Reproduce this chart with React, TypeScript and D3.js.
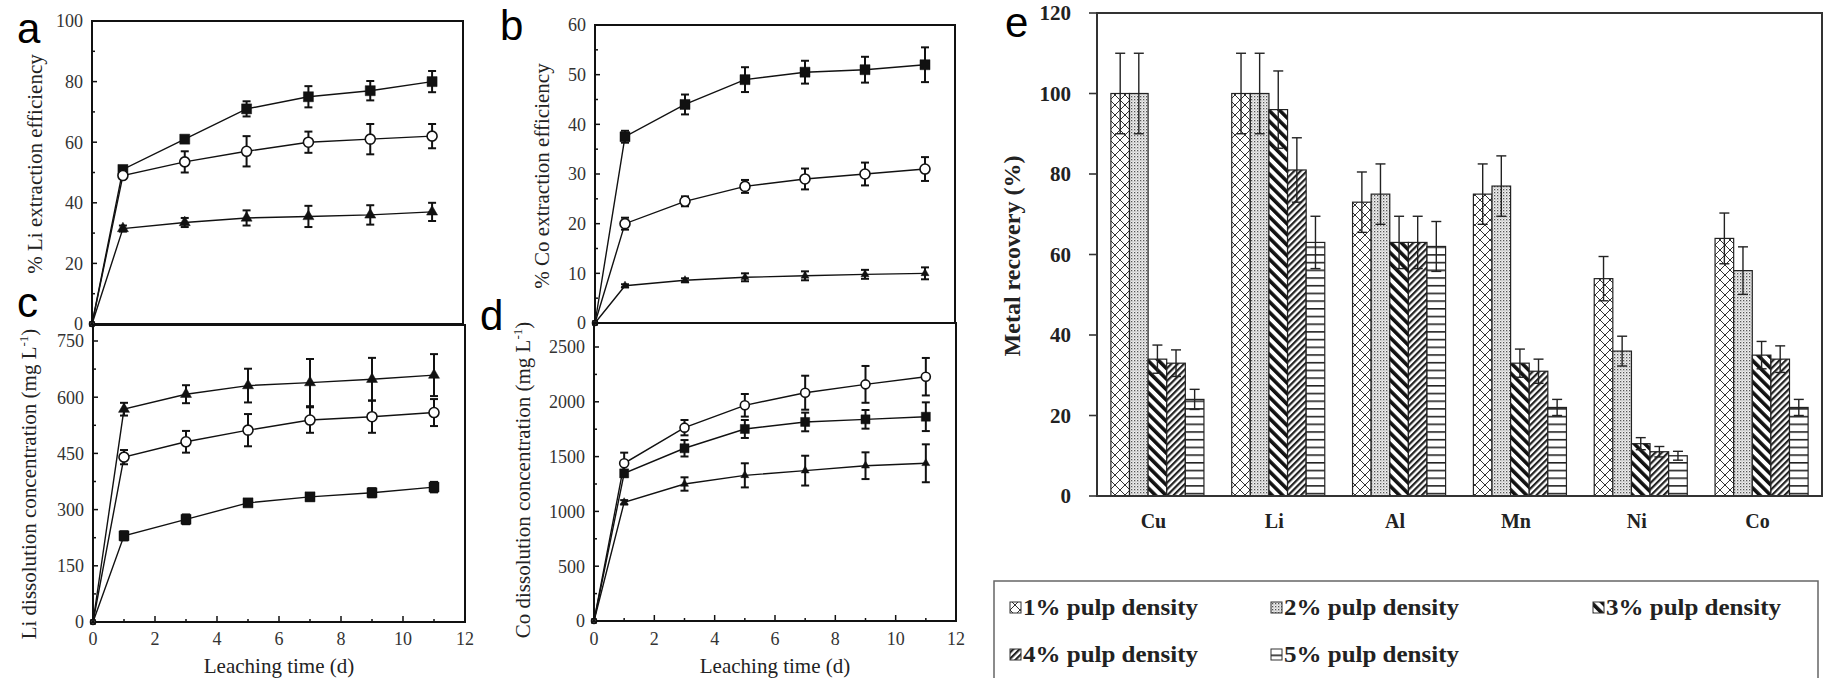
import * as d3 from 'd3';
import React from 'react';

// leaching time (d)
const days = [0, 1, 3, 5, 7, 9, 11];

// a: % Li extraction efficiency
const liEffSquare = [0, 51, 61, 71, 75, 77, 80];
const liEffSquareErr = [0, 1, 1, 2.5, 3.5, 3.2, 3.5];
const liEffCircle = [0, 49, 53.5, 57, 60, 61, 62];
const liEffCircleErr = [0, 1, 3.5, 5, 3.5, 5, 4];
const liEffTriangle = [0, 31.5, 33.5, 35, 35.5, 36, 37];
const liEffTriangleErr = [0, 1, 1.5, 2.5, 3.5, 3.2, 3];

// b: % Co extraction efficiency
const coEffSquare = [0, 37.5, 44, 49, 50.5, 51, 52];
const coEffSquareErr = [0, 1.2, 2, 2.5, 2.3, 2.6, 3.5];
const coEffCircle = [0, 20, 24.5, 27.5, 29, 30, 31];
const coEffCircleErr = [0, 1.2, 1, 1.3, 2.1, 2.3, 2.4];
const coEffTriangle = [0, 7.5, 8.6, 9.2, 9.5, 9.8, 10];
const coEffTriangleErr = [0, 0.3, 0.4, 0.8, 0.9, 0.9, 1.2];

// c: Li dissolution concentration (mg/L)
const liConcSquare = [0, 230, 274, 318, 334, 345, 360];
const liConcSquareErr = [0, 12, 13, 8, 10, 12, 14];
const liConcCircle = [0, 440, 481, 512, 539, 548, 559];
const liConcCircleErr = [0, 19, 29, 43, 34, 43, 36];
const liConcTriangle = [0, 568, 608, 631, 639, 648, 659];
const liConcTriangleErr = [0, 17, 24, 45, 63, 57, 56];

// d: Co dissolution concentration (mg/L)
const coConcSquare = [0, 1347, 1576, 1752, 1816, 1840, 1864];
const coConcSquareErr = [0, 30, 75, 82, 85, 85, 131];
const coConcCircle = [0, 1439, 1764, 1968, 2083, 2159, 2229];
const coConcCircleErr = [0, 97, 70, 103, 155, 168, 171];
const coConcTriangle = [0, 1083, 1250, 1329, 1372, 1417, 1439];
const coConcTriangleErr = [0, 20, 61, 110, 136, 122, 173];

// e: metal recovery (%)
const metals = ['Cu', 'Li', 'Al', 'Mn', 'Ni', 'Co'];
const densities = ['1% pulp density', '2% pulp density', '3% pulp density', '4% pulp density', '5% pulp density'];
const recovery1 = [100, 100, 73, 75, 54, 64];
const recovery2 = [100, 100, 75, 77, 36, 56];
const recovery3 = [34, 96, 63, 33, 13, 35];
const recovery4 = [33, 81, 63, 31, 11, 34];
const recovery5 = [24, 63, 62, 22, 10, 22];
const recoveryErr1 = [10, 10, 7.5, 7.5, 5.5, 6.3];
const recoveryErr2 = [10, 10, 7.5, 7.5, 3.7, 5.9];
const recoveryErr3 = [3.5, 9.6, 6.5, 3.5, 1.5, 3.4];
const recoveryErr4 = [3.3, 8, 6.5, 3, 1.3, 3.3];
const recoveryErr5 = [2.5, 6.5, 6.2, 2, 1.1, 2];

const serif = "'Liberation Serif', 'Times New Roman', serif";
const sans = "'Liberation Sans', Arial, sans-serif";

const Marker = ({ shape, x, y, size }) => {
    let type = d3.symbolSquare, area = size * size, fill = '#111';
    if (shape === 'circle') { type = d3.symbolCircle; area = Math.PI * size * size / 4; fill = '#fff'; }
    if (shape === 'triangle') { type = d3.symbolTriangle; area = Math.sqrt(3) / 4 * size * size; }
    const d = d3.symbol(type, area)();
    return <path d={d} transform={`translate(${x},${y})`} fill={fill} stroke="#111" strokeWidth={shape === 'circle' ? 1.6 : 0.5} />;
};

const LinePanel = ({ p }) => {
    const x = d3.scaleLinear().domain([0, 12]).range([p.left, p.right]);
    const y = d3.scaleLinear().domain([0, p.ticks[p.ticks.length - 1]]).range([p.bottom, p.maxY]);
    const line = d3.line().x((d) => x(d[0])).y((d) => y(d[1]));
    const minors = d3.range(p.minor, y.invert(p.top), p.minor * 2);
    return (
        <g>
            <rect x={p.left} y={p.top} width={p.right - p.left} height={p.bottom - p.top} fill="none" stroke="#111" strokeWidth={2} />
            {p.ticks.map((t) => (
                <g key={t}>
                    <line x1={p.left} x2={p.left + 5} y1={y(t)} y2={y(t)} stroke="#111" strokeWidth={1.5} />
                    <text x={p.left - 9} y={y(t)} dy="0.35em" textAnchor="end" fontFamily={serif} fontSize={18} fill="#333">{t}</text>
                </g>
            ))}
            {minors.map((t) => (
                <line key={'m' + t} x1={p.left} x2={p.left + 3} y1={y(t)} y2={y(t)} stroke="#111" strokeWidth={1.5} />
            ))}
            {p.showX && d3.range(0, 13, 1).map((t) => (
                <g key={'x' + t}>
                    <line x1={x(t)} x2={x(t)} y1={p.bottom} y2={p.bottom - (t % 2 ? 3 : 6)} stroke="#111" strokeWidth={1.5} />
                    {t % 2 === 0 && <text x={x(t)} y={645} textAnchor="middle" fontFamily={serif} fontSize={18} fill="#333">{t}</text>}
                </g>
            ))}
            {p.showX && <text x={(p.left + p.right) / 2} y={673} textAnchor="middle" fontFamily={serif} fontSize={21} fill="#222">Leaching time (d)</text>}
            <text transform={`translate(${p.titleX},${p.titleY}) rotate(-90)`} textAnchor="middle" dy="0.35em" fontFamily={serif} fontSize={21} fill="#222">
                {p.title}
                {p.sup && <tspan dy={-8} fontSize={13}>-1</tspan>}
                {p.sup && <tspan dy={8}>)</tspan>}
            </text>
            {p.series.map((s, si) => (
                <g key={si}>
                    {s.values.map((v, i) => s.errors[i] > 0 && (
                        <g key={i} stroke="#111" strokeWidth={2}>
                            <line x1={x(days[i])} x2={x(days[i])} y1={y(v - s.errors[i])} y2={y(v + s.errors[i])} />
                            <line x1={x(days[i]) - 4} x2={x(days[i]) + 4} y1={y(v - s.errors[i])} y2={y(v - s.errors[i])} />
                            <line x1={x(days[i]) - 4} x2={x(days[i]) + 4} y1={y(v + s.errors[i])} y2={y(v + s.errors[i])} />
                        </g>
                    ))}
                    <path d={line(days.map((d, i) => [d, s.values[i]]))} fill="none" stroke="#111" strokeWidth={1.4} />
                </g>
            ))}
            {p.series.map((s, si) => (
                <g key={'mk' + si}>
                    {s.values.map((v, i) => (
                        <Marker key={i} shape={s.shape} x={x(days[i])} y={y(v)} size={i === 0 ? 5 : (s.shape === 'triangle' ? p.tri : p.mark)} />
                    ))}
                </g>
            ))}
        </g>
    );
};

const panels = [
    {
        left: 92, right: 463, top: 21, bottom: 324, maxY: 21, ticks: [0, 20, 40, 60, 80, 100], minor: 10, showX: false,
        title: '% Li extraction efficiency', titleX: 35, titleY: 164, mark: 10, tri: 11,
        series: [
            { shape: 'square', values: liEffSquare, errors: liEffSquareErr },
            { shape: 'circle', values: liEffCircle, errors: liEffCircleErr },
            { shape: 'triangle', values: liEffTriangle, errors: liEffTriangleErr },
        ],
    },
    {
        left: 595, right: 955, top: 25, bottom: 323, maxY: 25, ticks: [0, 10, 20, 30, 40, 50, 60], minor: 5, showX: false,
        title: '% Co extraction efficiency', titleX: 542, titleY: 176, mark: 10, tri: 8,
        series: [
            { shape: 'square', values: coEffSquare, errors: coEffSquareErr },
            { shape: 'circle', values: coEffCircle, errors: coEffCircleErr },
            { shape: 'triangle', values: coEffTriangle, errors: coEffTriangleErr },
        ],
    },
    {
        left: 93, right: 465, top: 325, bottom: 622, maxY: 341, ticks: [0, 150, 300, 450, 600, 750], minor: 75, showX: true,
        title: 'Li dissolution concentration (mg L', sup: true, titleX: 29, titleY: 484, mark: 10, tri: 11,
        series: [
            { shape: 'square', values: liConcSquare, errors: liConcSquareErr },
            { shape: 'circle', values: liConcCircle, errors: liConcCircleErr },
            { shape: 'triangle', values: liConcTriangle, errors: liConcTriangleErr },
        ],
    },
    {
        left: 594, right: 956, top: 323, bottom: 621, maxY: 347, ticks: [0, 500, 1000, 1500, 2000, 2500], minor: 250, showX: true,
        title: 'Co dissolution concentration (mg L', sup: true, titleX: 523, titleY: 480, mark: 9, tri: 8,
        series: [
            { shape: 'square', values: coConcSquare, errors: coConcSquareErr },
            { shape: 'circle', values: coConcCircle, errors: coConcCircleErr },
            { shape: 'triangle', values: coConcTriangle, errors: coConcTriangleErr },
        ],
    },
];

const recoveries = [recovery1, recovery2, recovery3, recovery4, recovery5];
const recoveryErrs = [recoveryErr1, recoveryErr2, recoveryErr3, recoveryErr4, recoveryErr5];
const fills = ['url(#p1)', 'url(#p2)', 'url(#p3)', 'url(#p4)', 'url(#p5)'];

const Patterns = () => (
    <defs>
        <pattern id="p1" patternUnits="userSpaceOnUse" width={10} height={10}>
            <rect width={10} height={10} fill="#fff" />
            <path d="M0,0L10,10M10,0L0,10" stroke="#333" strokeWidth={1} />
        </pattern>
        <pattern id="p2" patternUnits="userSpaceOnUse" width={3} height={3}>
            <rect width={3} height={3} fill="#eee" />
            <rect width={1.3} height={1.3} fill="#555" />
            <rect x={1.5} y={1.5} width={1} height={1} fill="#999" />
        </pattern>
        <pattern id="p3" patternUnits="userSpaceOnUse" width={7.5} height={7.5} patternTransform="rotate(-45)">
            <rect width={7.5} height={7.5} fill="#fff" />
            <rect width={3.6} height={7.5} fill="#111" />
        </pattern>
        <pattern id="p4" patternUnits="userSpaceOnUse" width={4.5} height={4.5} patternTransform="rotate(45)">
            <rect width={4.5} height={4.5} fill="#fff" />
            <rect width={2.2} height={4.5} fill="#222" />
        </pattern>
        <pattern id="p5" patternUnits="userSpaceOnUse" width={8} height={7.7}>
            <rect width={8} height={7.7} fill="#fff" />
            <rect y={0} width={8} height={1.6} fill="#222" />
        </pattern>
    </defs>
);

const BarPanel = () => {
    const left = 1097, right = 1822, top = 13, bottom = 496;
    const x0 = d3.scaleBand().domain(metals).range([left, right]).paddingInner(0.23).paddingOuter(0.115);
    const x1 = d3.scaleBand().domain(densities).range([0, x0.bandwidth()]);
    const y = d3.scaleLinear().domain([0, 120]).range([bottom, top]);
    const ticks = y.ticks(6);
    const legendPos = [[1015, 607], [1276, 607], [1598, 607], [1015, 654], [1276, 654]];
    return (
        <g>
            {densities.map((dn, di) => (
                <g key={dn}>
                    {metals.map((m, mi) => {
                        const v = recoveries[di][mi];
                        const e = recoveryErrs[di][mi];
                        const bx = x0(m) + x1(dn);
                        const cx = bx + x1.bandwidth() / 2;
                        return (
                            <g key={m}>
                                <rect x={bx} y={y(v)} width={x1.bandwidth()} height={bottom - y(v)} fill={fills[di]} stroke="#222" strokeWidth={1.2} />
                                <g stroke="#222" strokeWidth={1.4}>
                                    <line x1={cx} x2={cx} y1={y(v - e)} y2={y(v + e)} />
                                    <line x1={cx - 5} x2={cx + 5} y1={y(v + e)} y2={y(v + e)} />
                                    <line x1={cx - 5} x2={cx + 5} y1={y(v - e)} y2={y(v - e)} />
                                </g>
                            </g>
                        );
                    })}
                </g>
            ))}
            <path d={`M${left},${top}H${right}V${bottom}H${left}Z`} fill="none" stroke="#333" strokeWidth={2} />
            {ticks.map((t) => (
                <g key={t}>
                    <line x1={left - 8} x2={left} y1={y(t)} y2={y(t)} stroke="#333" strokeWidth={1.6} />
                    <text x={left - 26} y={y(t)} dy="0.35em" textAnchor="end" fontFamily={serif} fontWeight="bold" fontSize={21} fill="#222">{t}</text>
                </g>
            ))}
            {metals.map((m) => (
                <text key={m} x={x0(m) + x0.bandwidth() / 2 - 4} y={528} textAnchor="middle" fontFamily={serif} fontWeight="bold" fontSize={20} fill="#222">{m}</text>
            ))}
            <text transform="translate(1012,256) rotate(-90)" textAnchor="middle" dy="0.35em" fontFamily={serif} fontWeight="bold" fontSize={24} fill="#222">Metal recovery (%)</text>
            <path d="M994,678V581H1818V678" fill="#fff" stroke="#666" strokeWidth={1.5} />
            {densities.map((dn, di) => (
                <g key={'lg' + dn}>
                    <rect x={legendPos[di][0] - 5} y={legendPos[di][1] - 5} width={11} height={11} fill={fills[di]} stroke="#333" strokeWidth={1} />
                    <text x={legendPos[di][0] + 8} y={legendPos[di][1] + 8} fontFamily={serif} fontWeight="bold" fontSize={23} fill="#222" textLength={175} lengthAdjust="spacingAndGlyphs">{dn}</text>
                </g>
            ))}
        </g>
    );
};

const letters = [['a', 17, 43], ['b', 500, 40], ['c', 17, 317], ['d', 480, 330], ['e', 1005, 37]];

export default function App() {
    return (
        <svg width={1825} height={678} style={{ position: 'absolute', left: 0, top: 0, background: '#fff' }}>
            <Patterns />
            {panels.map((p, i) => <LinePanel key={i} p={p} />)}
            <BarPanel />
            {letters.map(([l, lx, ly]) => (
                <text key={l} x={lx} y={ly} fontFamily={sans} fontSize={42} fill="#000">{l}</text>
            ))}
        </svg>
    );
}
